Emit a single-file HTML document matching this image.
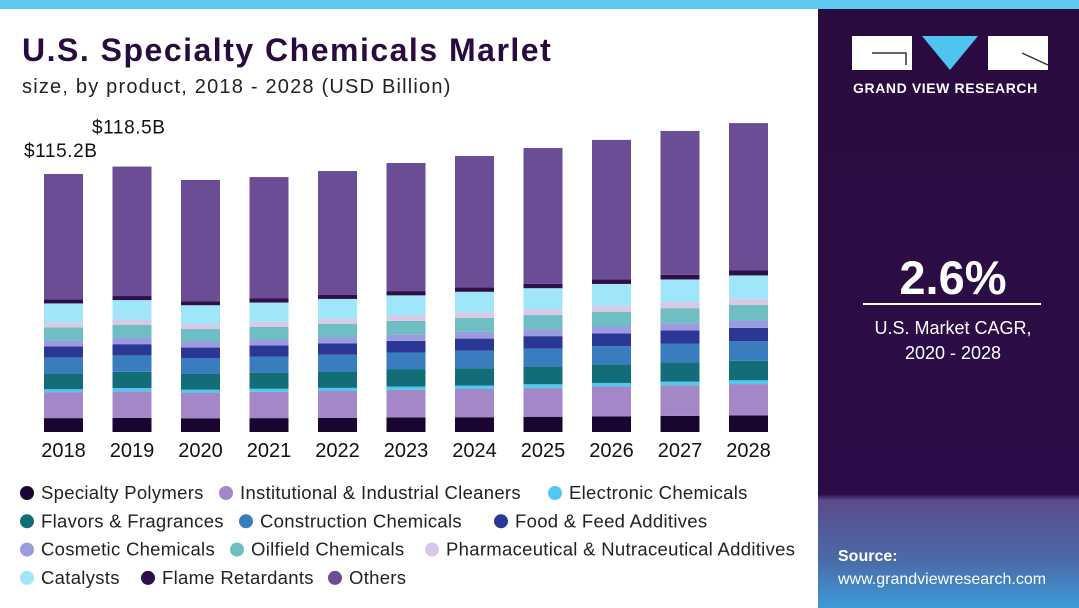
<!DOCTYPE html>
<html><head><meta charset="utf-8"><style>
body{margin:0;width:1079px;height:608px;overflow:hidden;background:#fff;font-family:"Liberation Sans",sans-serif;position:relative}
.t{position:absolute;white-space:nowrap}
</style></head><body>
<div style="position:absolute;left:0;top:0;width:1079px;height:9px;background:#5ec8f0"></div>
<div style="position:absolute;left:818px;top:9px;width:261px;height:599px;background:linear-gradient(#2a0b40 0%,#2c0c48 80%,#2c0c48 81%,#5a4b8c 82%,#4b6aa8 92%,#3d9ad8 100%)"></div>
<svg style="position:absolute;left:852px;top:35px" width="200" height="38">
<rect x="0" y="1" width="60" height="34" fill="#fff"/><path d="M20 18h34v12" stroke="#333" fill="none" stroke-width="1.5"/>
<polygon points="70,1 126,1 98,35" fill="#4ec4ef"/>
<rect x="136" y="1" width="60" height="34" fill="#fff"/><path d="M170 18l26 12" stroke="#333" stroke-width="1.5"/>
</svg>
<div class="t" style="left:853px;top:80px;color:#fff;font-weight:bold;font-size:14px;letter-spacing:0.6px">GRAND VIEW RESEARCH</div>
<div class="t" style="left:868px;top:250px;width:170px;text-align:center;color:#fff;font-weight:bold;font-size:47px">2.6%</div>
<div style="position:absolute;left:863px;top:303px;width:178px;height:2px;background:#fff"></div>
<div class="t" style="left:858px;top:316px;width:190px;text-align:center;color:#fff;font-size:18px;line-height:25px">U.S. Market CAGR,<br>2020 - 2028</div>
<div class="t" style="left:838px;top:548px;color:#fff;font-weight:bold;font-size:16px">Source:</div>
<div class="t" style="left:838px;top:571px;color:#fff;font-size:16px">www.grandviewresearch.com</div>
<div class="t" style="left:22px;top:32px;font-weight:bold;font-size:32px;letter-spacing:1.5px;color:#2a0b40">U.S. Specialty Chemicals Marlet</div>
<div class="t" style="left:22px;top:76px;font-size:20px;letter-spacing:1.2px;color:#222">size, by product, 2018 - 2028 (USD Billion)</div>
<svg id="chart" style="position:absolute;left:0;top:0" width="818" height="608"></svg>
<script>
const years=["2018","2019","2020","2021","2022","2023","2024","2025","2026","2027","2028"];
const names=["Specialty Polymers","Institutional & Industrial Cleaners","Electronic Chemicals","Flavors & Fragrances","Construction Chemicals","Food & Feed Additives","Cosmetic Chemicals","Oilfield Chemicals","Pharmaceutical & Nutraceutical Additives","Catalysts","Flame Retardants","Others"];
const specialtyPolymers=[6.2,6.3,6.1,6.2,6.3,6.5,6.6,6.8,7.0,7.2,7.4];
const cleaners=[11.6,11.9,11.5,11.7,12.0,12.3,12.6,12.9,13.3,13.6,14.0];
const electronic=[1.3,1.4,1.3,1.4,1.4,1.5,1.5,1.6,1.6,1.7,1.7];
const flavors=[7.1,7.3,7.0,7.2,7.4,7.6,7.8,8.0,8.2,8.5,8.7];
const construction=[7.1,7.3,7.0,7.2,7.4,7.6,7.8,8.0,8.2,8.5,8.7];
const food=[4.9,5.0,4.8,4.9,5.1,5.2,5.4,5.5,5.7,5.8,6.0];
const cosmetic=[2.7,2.8,2.7,2.7,2.8,2.9,3.0,3.0,3.1,3.2,3.3];
const oilfield=[5.8,5.9,5.6,5.7,5.9,6.0,6.2,6.4,6.6,6.8,7.0];
const pharma=[2.2,2.3,2.2,2.2,2.3,2.4,2.4,2.5,2.6,2.7,2.7];
const catalysts=[8.5,8.7,8.4,8.6,8.8,9.0,9.3,9.5,9.8,10.1,10.4];
const flame=[1.8,1.8,1.8,1.8,1.9,1.9,2.0,2.0,2.1,2.1,2.2];
const others=[56.0,57.8,54.1,54.2,55.2,57.2,58.6,60.6,62.2,64.2,65.8];
const valueLabels=["$115.2B","$118.5B"];
const series=[specialtyPolymers,cleaners,electronic,flavors,construction,food,cosmetic,oilfield,pharma,catalysts,flame,others];
const colors=["#1a0530","#a387c6","#4fc9ef","#136d78","#3a7dbf","#2b3794","#9b9be0","#6fbec4","#d9c9e6","#a0e6fb","#2e0f47","#6a4d94"];
const keys=["specialty-polymers","cleaners","electronic","flavors","construction","food","cosmetic","oilfield","pharma","catalysts","flame","others"];
const NS="http://www.w3.org/2000/svg",svg=document.getElementById("chart");
const base=432,k=2.24,x0=44,step=68.5,bw=39;
const labelX=[24,92],labelGap=[17,33];
const xPos=i=>x0+i*step, yLen=v=>v*k;
function mk(t,a){const e=document.createElementNS(NS,t);for(const n in a)e.setAttribute(n,a[n]);svg.appendChild(e);return e;}
years.forEach((yr,i)=>{
  let y=base;
  series.forEach((s,j)=>{
    const h=yLen(s[i]);y-=h;
    const r=mk("rect",{x:xPos(i),y:y,width:bw,height:h,fill:colors[j]});
    
    
  });
  const t=mk("text",{x:xPos(i)+bw/2,y:457,"text-anchor":"middle","font-size":"20",fill:"#111"});
  t.textContent=yr;
  
  
  if(i<valueLabels.length){
    const tot=series.reduce((a,s)=>a+s[i],0);
    const v=mk("text",{x:labelX[i],y:base-yLen(tot)-labelGap[i],"font-size":"19","letter-spacing":"0.6",fill:"#111"});
    v.textContent=valueLabels[i];
    
    
  }
});
const leg=[[0,27,0],[1,226,0],[2,555,0],[3,27,1],[4,246,1],[5,501,1],[6,27,2],[7,237,2],[8,432,2],[9,27,3],[10,148,3],[11,335,3]];
leg.forEach(([j,x,row])=>{
  const y=493+row*28.3;
  const c=mk("circle",{cx:x,cy:y,r:7,fill:colors[j]});
  
  
  const t=mk("text",{x:x+14,y:y+6,"font-size":"18.5","letter-spacing":"0.3",fill:"#222"});
  t.textContent=names[j];
  
  
});
</script>
</body></html>
